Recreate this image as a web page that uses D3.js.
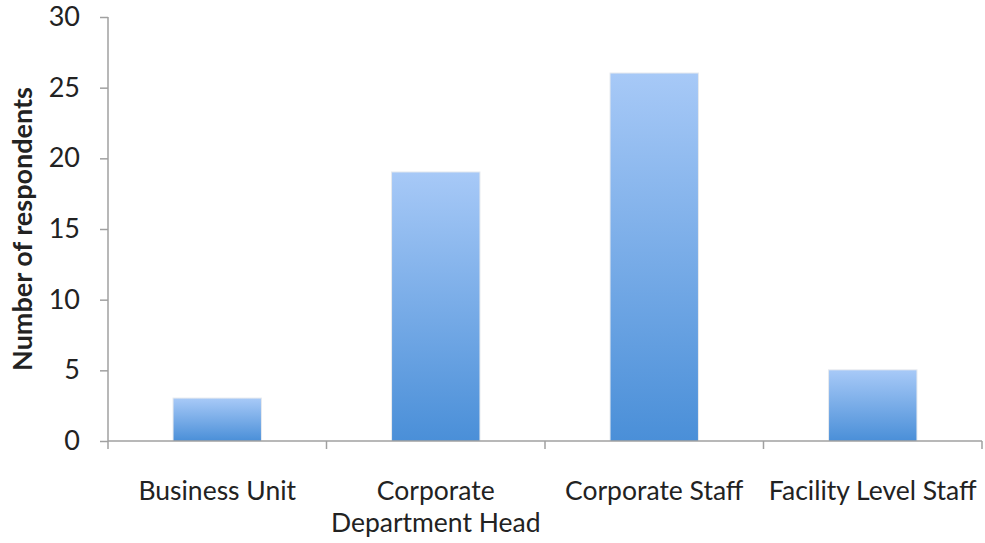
<!DOCTYPE html>
<html><head><meta charset="utf-8">
<script src="https://cdn.jsdelivr.net/npm/d3@7"></script>
<style>
html,body{margin:0;padding:0;background:#fff;}
svg{display:block;}
text{font-family:Lato, "Open Sans", sans-serif;fill:#222;}
</style></head>
<body>
<svg id="c" width="985" height="543"></svg>
<script>
const categories = ["Business Unit", "Corporate Department Head", "Corporate Staff", "Facility Level Staff"];
const categoryLines = [["Business Unit"], ["Corporate", "Department Head"], ["Corporate Staff"], ["Facility Level Staff"]];
const values = [3, 19, 26, 5];
const yTicks = [0, 5, 10, 15, 20, 25, 30];
const yTitle = "Number of respondents";

(function () {
const svg = d3.select("#c");
const mLeft = 108, mRight = 982, mTop = 17, mBottom = 441;

const x = d3.scaleBand().domain(categories).range([mLeft, mRight]).paddingInner(0.6).paddingOuter(0.3);
const xb = d3.scaleBand().domain(categories).range([mLeft, mRight]).padding(0);
const y = d3.scaleLinear().domain([0, 30]).range([mBottom, mTop]);

const defs = svg.append("defs");
const g = defs.append("linearGradient").attr("id", "bg").attr("x1", 0).attr("y1", 0).attr("x2", 0).attr("y2", 1);
g.append("stop").attr("offset", "0%").attr("stop-color", "#a7c9f7");
g.append("stop").attr("offset", "100%").attr("stop-color", "#4a8fd8");

svg.append("g").selectAll("rect").data(values).join("rect")
  .attr("x", (d, i) => x(categories[i]) - 1)
  .attr("y", d => y(d) - 1)
  .attr("width", x.bandwidth() + 2)
  .attr("height", d => mBottom - y(d) + 1)
  .attr("fill", "#e4e8ee");
svg.append("g").selectAll("rect").data(values).join("rect")
  .attr("x", (d, i) => x(categories[i]))
  .attr("y", d => y(d))
  .attr("width", x.bandwidth())
  .attr("height", d => mBottom - y(d))
  .attr("fill", "url(#bg)");

const ya = svg.append("g").attr("transform", `translate(${mLeft},0)`)
  .call(d3.axisLeft(y).tickValues(yTicks).tickSize(8).tickPadding(20));
ya.select(".domain").attr("stroke", "#a0a0a0").attr("stroke-width", 1.5).attr("d", `M0,${mTop}V${mBottom}`);
ya.selectAll(".tick line").attr("stroke", "#a0a0a0").attr("stroke-width", 1.5);
ya.selectAll(".tick text").attr("font-size", 27).attr("font-family", "Lato, sans-serif").style("fill", "#222");

const xa = svg.append("g").attr("transform", `translate(0,${mBottom})`);
xa.append("line").attr("x1", mLeft).attr("x2", mRight).attr("y1", 0).attr("y2", 0)
  .attr("stroke", "#a0a0a0").attr("stroke-width", 1.5);
const edges = categories.map(c => xb(c)).concat([mRight]);
xa.selectAll("line.t").data(edges).join("line")
  .attr("class", "t")
  .attr("x1", d => d).attr("x2", d => d).attr("y1", 0).attr("y2", 8)
  .attr("stroke", "#a0a0a0").attr("stroke-width", 1.5);

const lab = svg.append("g").selectAll("text").data(categories).join("text")
  .attr("x", c => xb(c) + xb.bandwidth() / 2)
  .attr("y", 500)
  .attr("text-anchor", "middle")
  .attr("font-size", 26.5);
lab.each(function (c, i) {
  const t = d3.select(this);
  categoryLines[i].forEach((l, k) => {
    t.append("tspan").attr("x", xb(c) + xb.bandwidth() / 2).attr("dy", k === 0 ? 0 : 32).text(l);
  });
});

svg.append("text")
  .attr("transform", `translate(32,${(mTop + mBottom) / 2}) rotate(-90)`)
  .attr("text-anchor", "middle")
  .attr("font-size", 27)
  .attr("font-weight", "bold")
  .text(yTitle);
})();
</script>
</body></html>
